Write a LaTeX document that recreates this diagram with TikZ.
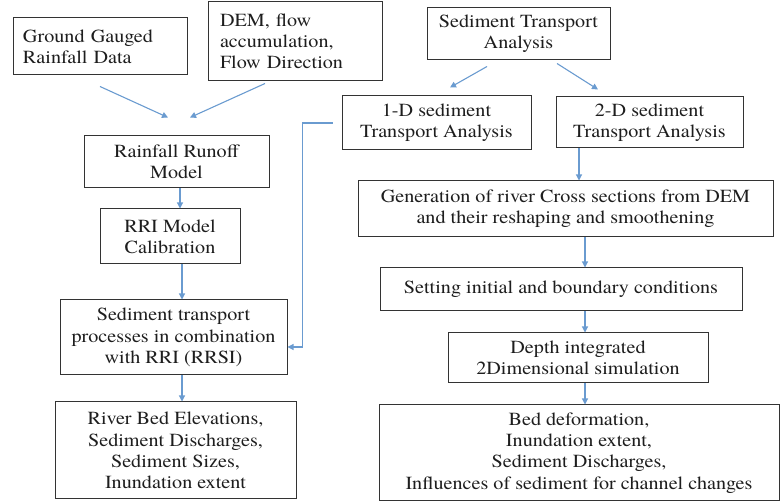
\documentclass[tikz,border=0pt]{standalone}
\usepackage{fontspec}
\setmainfont{texgyretermes}[Extension=.otf,UprightFont=*-regular,BoldFont=*-bold,ItalicFont=*-italic,BoldItalicFont=*-bolditalic,FakeStretch=1.09]
\usetikzlibrary{arrows.meta}
\definecolor{arrowblue}{HTML}{6A9BD0}
\definecolor{boxline}{HTML}{333333}
\definecolor{txt}{HTML}{1E1E1E}
\begin{document}
\begin{tikzpicture}[x=1pt,y=-1pt,
  box/.style={draw=boxline,line width=1pt,fill=white,inner sep=0pt,align=center,
    text=txt,font=\fontsize{18.5}{21.3}\selectfont},
  arr/.style={draw=arrowblue,line width=1.1pt,-{Triangle[length=6pt,width=6pt]}},
  ln/.style={draw=arrowblue,line width=1.1pt}]
\useasboundingbox (0,0) rectangle (780,502);
% left column
\node[box,minimum width=174pt,minimum height=57pt,text width=154pt,align=left] (gg) at (100,46.5) {Ground Gauged\\Rainfall Data};
\node[box,minimum width=174pt,minimum height=79pt,text width=150pt,align=left] (dem) at (295,41.5) {DEM, flow\\accumulation,\\Flow Direction};
\node[box,minimum width=185pt,minimum height=52pt] (rr) at (176.5,162) {Rainfall Runoff\\Model};
\node[box,minimum width=140pt,minimum height=55pt] (rri) at (170,236.5) {RRI Model\\Calibration};
\node[box,minimum width=227pt,minimum height=75pt] (stp) at (173.5,337.5) {Sediment transport\\processes in combination\\with RRI (RRSI)};
\node[box,minimum width=241pt,minimum height=97pt] (rb) at (175.5,450.5) {River Bed Elevations,\\Sediment Discharges,\\Sediment Sizes,\\Inundation extent};
% right column
\node[box,minimum width=183pt,minimum height=52pt] (sta) at (518.5,34) {Sediment Transport\\Analysis};
\node[box,minimum width=189pt,minimum height=54pt] (d1) at (436.5,123) {1-D sediment\\Transport Analysis};
\node[box,minimum width=187pt,minimum height=51pt] (d2) at (649.5,122.5) {2-D sediment\\Transport Analysis};
\node[box,minimum width=415pt,minimum height=56pt] (gen) at (565.5,209) {Generation of river Cross sections from DEM\\and their reshaping and smoothening};
\node[box,minimum width=362pt,minimum height=43pt] (set) at (561,289.5) {Setting initial and boundary conditions};
\node[box,minimum width=260pt,minimum height=50pt] (dep) at (578,358) {Depth integrated\\2Dimensional simulation};
\node[box,minimum width=400pt,minimum height=96pt] (bed) at (579,453) {Bed deformation,\\Inundation extent,\\Sediment Discharges,\\Influences of sediment for channel changes};
% connectors
\draw[arr] ([yshift=-11pt]gg.south) -- ([xshift=-8.5pt,yshift=18pt]rr.north);
\draw[arr] ([xshift=-30pt,yshift=-2pt]dem.south) -- ([xshift=13.5pt,yshift=18pt]rr.north);
\draw[arr] ([xshift=3.5pt]rr.south) -- ([xshift=10pt]rri.north);
\draw[arr] ([xshift=12pt]rri.south) -- ([xshift=8.5pt]stp.north);
\draw[arr] ([xshift=8.5pt]stp.south) -- ([xshift=6.5pt]rb.north);
\draw[arr] ([xshift=-31.5pt,yshift=-6pt]sta.south) -- ([xshift=13.5pt,yshift=8pt]d1.north);
\draw[arr] ([xshift=38.5pt,yshift=-3pt]sta.south) -- ([xshift=-51.5pt,yshift=7pt]d2.north);
\draw[arr] ([xshift=-70.5pt]d2.south) -- ([xshift=13.5pt]gen.north);
\draw[arr] ([xshift=19.5pt]gen.south) -- ([xshift=24pt]set.north);
\draw[arr] ([xshift=24pt]set.south) -- ([xshift=7pt]dep.north);
\draw[arr] ([xshift=7pt]dep.south) -- ([xshift=6pt]bed.north);
\draw[arr] ([xshift=-9pt]d1.west) -| ([xshift=15pt,yshift=-9.5pt]stp.east) -- ([yshift=-9.5pt]stp.east);
\end{tikzpicture}
\end{document}
